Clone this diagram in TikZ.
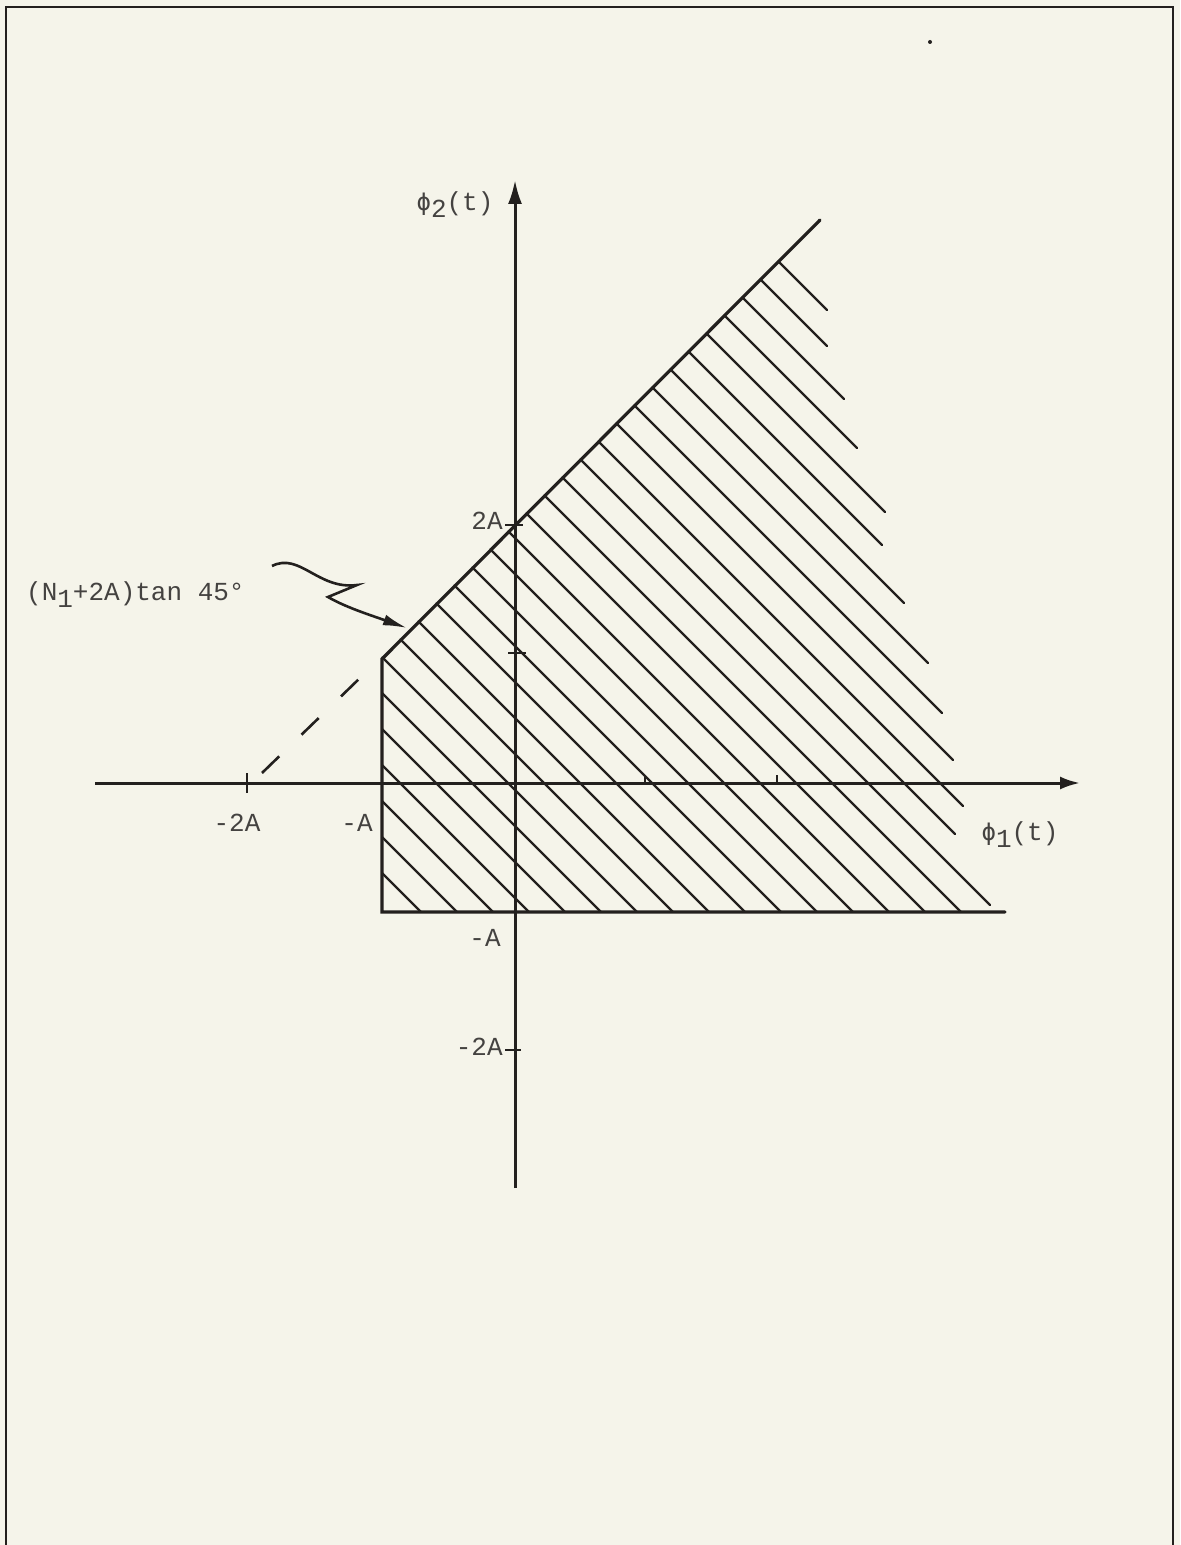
\documentclass[tikz,border=0pt]{standalone}
\usepackage{fontspec}
\setmainfont{Liberation Mono}
\newfontfamily\phifont{DejaVu Sans Mono}
\usetikzlibrary{arrows.meta}
\definecolor{paper}{RGB}{245,244,234}
\definecolor{ink}{RGB}{35,32,30}
\newcommand\lowsub[1]{\raisebox{-0.5ex}{#1}}
\newcommand\myphi{{\phifont\fontsize{12}{14}\selectfont ϕ}}
\begin{document}
\begin{tikzpicture}[x=0.5pt,y=-0.5pt,
  axis/.style={line width=1.5pt, draw=ink},
  bound/.style={line width=1.6pt, draw=ink, line cap=round},
  hatch/.style={line width=1.15pt, draw=ink, line cap=round},
  tickmark/.style={line width=1.4pt, draw=ink},
  lbl/.style={font=\fontsize{13}{15}\selectfont, text=ink!85, inner sep=0pt},
  frame/.style={line width=1.4pt, draw=ink}]
\useasboundingbox[fill=paper] (0,0) rectangle (1180,1545);
% frame
\draw[frame] (6,1545) -- (6,7) -- (1173,7) -- (1173,1545);
\fill[ink] (930,42) circle (2);
% key points
\coordinate (O) at (515,783);
\coordinate (xl) at (95,783);
\coordinate (xr) at (1080,783);
\coordinate (yb) at (515,1188);
\coordinate (yt) at (515,180);
\coordinate (corner) at (382,659);
\coordinate (top) at (820,220);
\coordinate (bl) at (382,912);
\coordinate (br) at (1005,912);
% hatching
\foreach \ax/\ay/\bx/\by in {
 778.5/261.5/827/310, 760.5/279.5/827/346, 742.5/297.5/844/399,
 724.5/315.5/857/448, 706.5/333.5/885/512, 688.5/351.5/882/545,
 670.5/369.5/904/603, 652.5/387.5/928/663, 634.5/405.5/942/713,
 616.5/423.5/953/760, 598.5/441.5/963/806, 580.5/459.5/955/834,
 562.5/477.5/990/905, 544.5/495.5/961/912, 526.5/513.5/925/912,
 508.5/531.5/889/912, 490.5/549.5/853/912, 472.5/567.5/817/912,
 454.5/585.5/781/912, 436.5/603.5/745/912, 418.5/621.5/709/912,
 400.5/639.5/673/912, 382.5/657.5/637/912, 382/693/601/912,
 382/729/565/912, 382/765/529/912, 382/801/493/912,
 382/837/457/912, 382/873/421/912}
  \draw[hatch] (\ax,\ay) -- (\bx,\by);
% region boundary
\draw[bound] (top) -- (corner) -- (bl) -- (br);
% dashed continuation
\coordinate (d1) at (262,773);
\coordinate (d2) at (361,677);
\draw[line width=1.3pt, draw=ink, dash pattern=on 12pt off 15.5pt] (d1) -- (d2);
% axes
\draw[axis, -{Latex[length=10pt,width=6.5pt]}] (xl) -- (xr);
\draw[axis, -{Latex[length=12pt,width=7pt]}] (yb) -- (yt);
% ticks on x axis
\draw[tickmark] (247,773) -- (247,793);
\draw[tickmark] (645,775) -- (645,783);
\draw[tickmark] (777,775) -- (777,783);
% ticks on y axis
\draw[tickmark] (505,525) -- (523,525);
\draw[tickmark] (508,653) -- (526,653);
\draw[tickmark] (505,1050) -- (521,1050);
% labels
\node[lbl] (l2) at (455,205) {\myphi\lowsub{2}(t)};
\node[lbl] (l1) at (1020,835) {\myphi\lowsub{1}(t)};
\node[lbl, anchor=east] (y2a) at (503,521) {2A};
\node[lbl] (xm2a) at (237,823) {-2A};
\node[lbl] (xma) at (357,823) {-A};
\node[lbl] (yma) at (485,938) {-A};
\node[lbl, anchor=east] (ym2a) at (503,1047) {-2A};
\node[lbl, anchor=east] (note) at (245,595) {(N\lowsub{1}+2A)tan 45°};
% squiggle arrow
\coordinate (s0) at (272,566);
\coordinate (s1) at (357,585);
\coordinate (s2) at (328,597);
\coordinate (tip) at (407,628);
\draw[line width=1.3pt, draw=ink, -{Latex[length=12pt,width=5.5pt]}]
  (s0) .. controls (300,552) and (318,590) .. (s1) -- (s2)
  .. controls (345,607) and (370,615) .. (tip);
\end{tikzpicture}
\end{document}
